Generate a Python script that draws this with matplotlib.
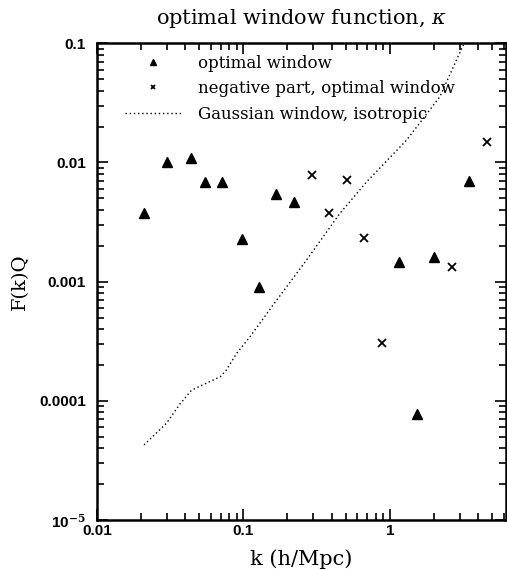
import numpy as np
import matplotlib.pyplot as plt
from matplotlib.ticker import FixedLocator, LogLocator, NullFormatter

plt.rcParams['font.family'] = ['DejaVu Serif']
plt.rcParams['mathtext.fontset'] = 'dejavuserif'

# optimal window (positive part)
k_opt = [0.021, 0.030, 0.0438, 0.0545, 0.0713, 0.0977, 0.1276, 0.167, 0.221,
         1.15, 1.53, 2.0, 3.46]
F_opt = [0.0038, 0.0101, 0.0109, 0.0068, 0.0068, 0.00226, 0.00090, 0.00548, 0.0047,
         0.00145, 7.8e-5, 0.0016, 0.0070]

# negative part of optimal window
k_neg = [0.294, 0.384, 0.508, 0.665, 0.881, 2.65, 4.59]
F_neg = [0.0079, 0.0038, 0.00716, 0.00231, 0.000305, 0.00132, 0.0149]

# Gaussian window, isotropic
k_gau = [0.021, 0.0299, 0.0369, 0.0443, 0.059, 0.0698, 0.0767, 0.0899, 0.111,
         0.160, 0.270, 0.456, 0.694, 1.30, 2.19, 3.16, 3.35]
F_gau = [4.27e-5, 6.5e-5, 9.4e-5, 1.23e-4, 1.45e-4, 1.6e-4, 1.82e-4, 2.5e-4, 3.45e-4,
         6.4e-4, 1.52e-3, 3.74e-3, 6.88e-3, 0.0154, 0.0355, 0.096, 0.12]

fig = plt.figure(figsize=(5.07, 5.69), dpi=100)
ax = fig.add_axes([0.191, 0.086, 0.807, 0.838])

ax.plot(k_gau, F_gau, color="black", linestyle=(0, (1, 2)), linewidth=1.0,
        label="Gaussian window, isotropic")
ax.plot(k_opt, F_opt, linestyle="none", marker="^", color="black", markersize=7,
        label="optimal window")
ax.plot(k_neg, F_neg, linestyle="none", marker="x", color="black", markersize=6,
        markeredgewidth=1.3, label="negative part, optimal window")

ax.set_xscale("log")
ax.set_yscale("log")
ax.set_xlim(0.01, 6.2)
ax.set_ylim(1e-5, 0.1)

tick_font = dict(family="Liberation Sans", weight="bold", size=11)
ax.xaxis.set_major_locator(FixedLocator([0.01, 0.1, 1]))
ax.set_xticklabels(["0.01", "0.1", "1"], fontdict=tick_font)
ax.xaxis.set_minor_locator(LogLocator(base=10, subs=np.arange(2, 10)))
ax.xaxis.set_minor_formatter(NullFormatter())
ax.yaxis.set_major_locator(FixedLocator([1e-5, 1e-4, 1e-3, 1e-2, 0.1]))
ax.set_yticklabels([r"10$^{\mathbf{-5}}$", "0.0001", "0.001", "0.01", "0.1"],
                   fontdict=tick_font)
ax.yaxis.set_minor_locator(LogLocator(base=10, subs=np.arange(2, 10)))
ax.yaxis.set_minor_formatter(NullFormatter())

ax.tick_params(which="both", direction="in", top=True, right=True, width=1.2)
ax.tick_params(which="major", length=8)
ax.tick_params(which="minor", length=5)
ax.tick_params(axis="x", which="major", pad=3)
ax.tick_params(axis="y", which="major", pad=8)
for s in ax.spines.values():
    s.set_linewidth(1.8)

ax.set_title(r"optimal window function, $\kappa$", fontsize=15, pad=14)
ax.set_xlabel("k (h/Mpc)", fontsize=15, labelpad=8)
ax.set_ylabel("F(k)Q", fontsize=14, labelpad=7)

handles, labels = ax.get_legend_handles_labels()
order = [1, 2, 0]
leg = ax.legend([handles[i] for i in order], [labels[i] for i in order],
                loc="upper left", frameon=False, fontsize=12, markerscale=0.6,
                handlelength=3.4, handletextpad=1.0, borderaxespad=0.3,
                bbox_to_anchor=(0.04, 1.0))

plt.savefig("out.png")
